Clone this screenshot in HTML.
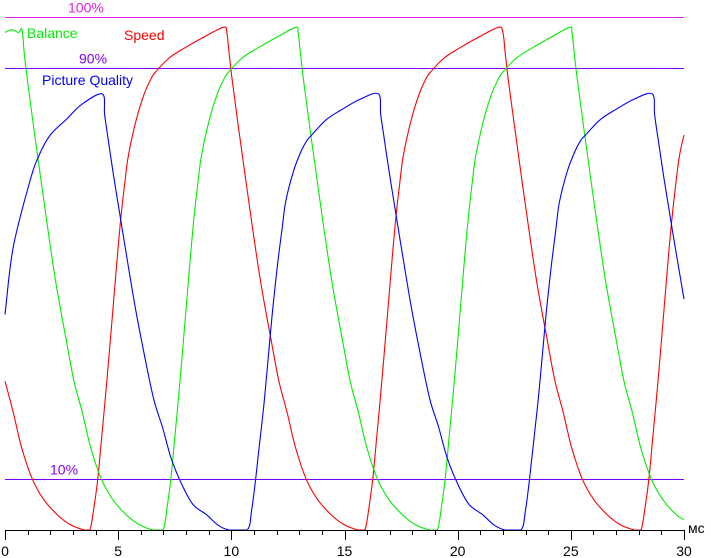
<!DOCTYPE html>
<html><head><meta charset="utf-8"><style>
body{margin:0;background:#fff;width:711px;height:558px;overflow:hidden}
svg{display:block}
text{font-family:"Liberation Sans",sans-serif;font-size:14px}
</style></head><body>
<svg id="chart" width="711" height="558" viewBox="0 0 711 558">
<g id="grid"></g><g id="series"></g><g id="axis"></g>
</svg>
<script>
const xTicks=[0,5,10,15,20,25,30];
const refLevels=[100,90,10];
const refLabels=["100%","90%","10%"];
const speedT=[0,0.36,0.74,1.2,1.7,2.3,2.9,3.5,3.75,3.95,4.1,4.25,4.5,4.75,4.9,5.1,5.3,5.45,5.8,6.15,6.4,6.6,7.25,7.95,8.75,9.65,9.8,9.9,10.03,10.3,10.74,11.27,11.8,12.1,12.46,12.84,13.3,13.8,14.4,15.0,15.6,15.9,16.1,16.25,16.4,16.65,16.9,17.05,17.25,17.45,17.6,17.95,18.3,18.55,18.75,19.4,20.1,20.9,21.8,22.0,22.1,22.23,22.5,22.94,23.47,24.0,24.3,24.66,25.04,25.5,26.0,26.6,27.2,27.8,28.1,28.3,28.45,28.6,28.85,29.1,29.25,29.45,29.65,29.8,30];
const speedV=[29,23,16,10,6,3,1,0,0,5,10,17,29,42,50,60,68,73,80,85,87.5,89,92,94,96,98,97,93,88,79,65,49,36,29,23,16,10,6,3,1,0,0,5,10,17,29,42,50,60,68,73,80,85,87.5,89,92,94,96,98,97,93,88,79,65,49,36,29,23,16,10,6,3,1,0,0,5,10,17,29,42,50,60,68,73,77];
const balanceT=[0,0.3,0.6,0.75,0.85,0.98,1.25,1.69,2.22,2.75,3.05,3.41,3.79,4.25,4.75,5.35,5.95,6.55,6.98,7.18,7.33,7.48,7.73,7.98,8.13,8.33,8.53,8.68,9.03,9.38,9.63,9.83,10.48,11.18,11.98,12.85,12.95,13.05,13.18,13.45,13.89,14.42,14.95,15.25,15.61,15.99,16.45,16.95,17.55,18.15,18.75,19.1,19.3,19.45,19.6,19.85,20.1,20.25,20.45,20.65,20.8,21.15,21.5,21.75,21.95,22.6,23.3,24.1,24.95,25.05,25.15,25.28,25.55,25.99,26.52,27.05,27.35,27.71,28.09,28.55,29.05,29.65,30];
const balanceV=[97,97.5,97,97.5,93,88,79,65,49,36,29,23,16,10,6,3,1,0,0,5,10,17,29,42,50,60,68,73,80,85,87.5,89,92,94,96,98,97,93,88,79,65,49,36,29,23,16,10,6,3,1,0,0,5,10,17,29,42,50,60,68,73,80,85,87.5,89,92,94,96,98,97,93,88,79,65,49,36,29,23,16,10,6,3,2];
const qualityT=[0,0.36,1.1,1.5,2.0,2.7,3.4,4.3,4.4,4.53,4.8,5.24,5.77,6.3,6.6,6.96,7.34,7.8,8.3,8.9,9.4,9.9,10.7,10.9,11.05,11.2,11.45,11.7,11.85,12.05,12.25,12.4,12.75,13.1,13.35,13.55,14.2,14.9,15.7,16.5,16.6,16.73,17.0,17.44,17.97,18.5,18.8,19.16,19.54,20.0,20.5,21.1,21.6,22.1,22.8,23.0,23.15,23.3,23.55,23.8,23.95,24.15,24.35,24.5,24.85,25.2,25.45,25.65,26.3,27.0,27.8,28.6,28.7,28.83,29.1,29.54,30];
const qualityV=[42,55,68,73,77,80,83,85,81,77,69,57,43,31,25,20,14,9,5,3,1,0,0,4,9,15,25,37,44,52,59,64,70,74,76,77,80,82,84,85,81,77,69,57,43,31,25,20,14,9,5,3,1,0,0,4,9,15,25,37,44,52,59,64,70,74,76,77,80,82,84,85,81,77,69,57,45];

const X0=5,X1=684,Y0=530,Y100=17;
const xs=t=>X0+(t/30)*(X1-X0);
const ys=v=>Y0-(v/100)*(Y0-Y100);
const NS="http://www.w3.org/2000/svg";
function mk(tag,attrs,parent){const e=document.createElementNS(NS,tag);for(const k in attrs)e.setAttribute(k,attrs[k]);parent.appendChild(e);return e;}
const grid=document.getElementById('grid'),ser=document.getElementById('series'),ax=document.getElementById('axis');
const refColors=["#e020e0","#8000ff","#8000ff"];
const refLabelX=[68,79,50];
refLevels.forEach((lv,i)=>{
  const y=Math.round(ys(lv))+0.5;
  const l=mk('line',{x1:5,x2:684,y1:y,y2:y,stroke:refColors[i],'stroke-width':1},grid);
  
  
  const t=mk('text',{x:refLabelX[i],y:y-5,fill:refColors[i]},grid);
  t.textContent=refLabels[i];
  
  
});
function drawSeries(T,V,color,name){
  const P=T.map((t,i)=>[xs(t),ys(V[i])]);
  let d='M'+P[0][0].toFixed(1)+' '+P[0][1].toFixed(1);
  const lo=ys(0);
  for(let i=0;i<P.length-1;i++){
    const p0=P[Math.max(0,i-1)],p1=P[i],p2=P[i+1],p3=P[Math.min(P.length-1,i+2)];
    const c1=[p1[0]+(p2[0]-p0[0])/6,Math.min(lo,p1[1]+(p2[1]-p0[1])/6)];
    const c2=[p2[0]-(p3[0]-p1[0])/6,Math.min(lo,p2[1]-(p3[1]-p1[1])/6)];
    d+=' C'+c1[0].toFixed(1)+' '+c1[1].toFixed(1)+' '+c2[0].toFixed(1)+' '+c2[1].toFixed(1)+' '+p2[0].toFixed(1)+' '+p2[1].toFixed(1);
  }
  const p=mk('path',{d:d,fill:'none',stroke:color,'stroke-width':1.1},ser);
  
  
}
drawSeries(speedT,speedV,'#ff0000','speed-line');
drawSeries(balanceT,balanceV,'#00ee00','balance-line');
drawSeries(qualityT,qualityV,'#0000ff','picture-quality-line');
const legend=[["Balance",27,38,"#00ee00"],["Speed",124,40,"#ff0000"],["Picture Quality",42,85,"#0000ff"]];
legend.forEach(l=>{const t=mk('text',{x:l[1],y:l[2],fill:l[3]},ser);t.textContent=l[0];
  
  });
const base=mk('line',{x1:5,x2:684,y1:530.5,y2:530.5,stroke:'#000','stroke-width':1},ax);


for(let i=0;i<=30;i++){
  const x=Math.round(xs(i))+0.5;const major=i%5===0;
  const tk=mk('line',{x1:x,x2:x,y1:530,y2:major?540:535,stroke:'#000','stroke-width':1},ax);
  
  
}
xTicks.forEach(v=>{const t=mk('text',{x:xs(v),y:556,fill:'#000','text-anchor':'middle'},ax);t.textContent=v;
  
  });
const u=mk('text',{x:688,y:533,fill:'#000'},ax);u.textContent='мс';


</script>
</body></html>
